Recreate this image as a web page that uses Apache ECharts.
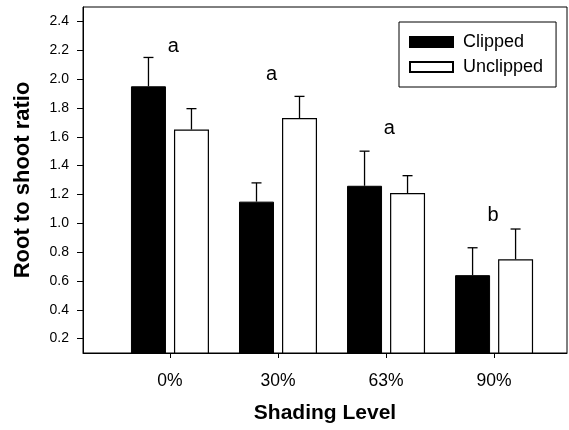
<!DOCTYPE html>
<html>
<head>
<meta charset="utf-8">
<script src="https://cdn.jsdelivr.net/npm/echarts@6/dist/echarts.min.js"></script>
<style>
html,body{margin:0;padding:0;background:#fff;}
#chart{width:569px;height:430px;}
</style>
</head>
<body>
<div id="chart"></div>
<script>
// ---- data ----
var categories = ['0%', '30%', '63%', '90%'];
var clipped = [1.95, 1.15, 1.26, 0.64];
var clippedSE = [0.20, 0.13, 0.24, 0.19];
var unclipped = [1.65, 1.73, 1.21, 0.75];
var unclippedSE = [0.145, 0.15, 0.12, 0.21];
var letters = ['a', 'a', 'a', 'b'];
var letterX = [1.03, 1.94, 3.03, 3.99];
var letterY = [2.225, 2.03, 1.654, 1.055];
var yTicks = [0.2, 0.4, 0.6, 0.8, 1.0, 1.2, 1.4, 1.6, 1.8, 2.0, 2.2, 2.4];
var xTicks = [1, 2, 3, 4];

// ---- style ----
var FONT = "'Liberation Sans', Arial, sans-serif";
var BAR_W = 35, GAP_PX = 8;
var HALF = (BAR_W + GAP_PX) / 2;

function errorSeries(name, means, ses, offset) {
  return {
    type: 'custom',
    name: name + ' SE',
    z: 1,
    data: means.map(function (m, i) { return [i + 1, m, m + ses[i]]; }),
    renderItem: function (params, api) {
      var x = api.value(0), lo = api.value(1), hi = api.value(2);
      var p1 = api.coord([x, lo]);
      var p2 = api.coord([x, hi]);
      var cx = p1[0] + offset;
      var st = { stroke: '#000', lineWidth: 1.3 };
      return {
        type: 'group',
        children: [
          { type: 'line', shape: { x1: cx, y1: p1[1], x2: cx, y2: p2[1] }, style: st },
          { type: 'line', shape: { x1: cx - 5, y1: p2[1], x2: cx + 5, y2: p2[1] }, style: st }
        ]
      };
    }
  };
}

var chart = echarts.init(document.getElementById('chart'));
chart.setOption({
  animation: false,
  backgroundColor: '#fff',
  grid: {
    left: 83, right: 2, top: 7, bottom: 77,
    show: true, borderColor: '#000', borderWidth: 1, backgroundColor: 'transparent'
  },
  legend: {
    data: ['Clipped', 'Unclipped'],
    orient: 'vertical',
    left: 399, top: 22,
    padding: [10, 13, 10, 10],
    itemGap: 5,
    itemWidth: 43, itemHeight: 10,
    borderColor: '#000', borderWidth: 1,
    backgroundColor: '#fff',
    icon: 'rect',
    textStyle: { fontFamily: FONT, fontSize: 18, color: '#000', lineHeight: 20, padding: [0, 0, 0, 5] }
  },
  xAxis: {
    type: 'value',
    min: 0.195, max: 4.675,
    name: 'Shading Level',
    nameLocation: 'middle',
    nameGap: 50,
    nameTextStyle: { fontFamily: FONT, fontSize: 21, fontWeight: 'bold', color: '#000' },
    axisLine: { show: true, lineStyle: { color: '#000', width: 1 } },
    axisTick: { show: true, inside: false, length: 5, customValues: xTicks, lineStyle: { color: '#000' } },
    axisLabel: {
      customValues: xTicks, margin: 19,
      fontFamily: FONT, fontSize: 17.5, color: '#000',
      formatter: function (v) { return categories[Math.round(v) - 1]; }
    },
    splitLine: { show: false }
  },
  yAxis: {
    type: 'value',
    min: 0.1, max: 2.5,
    name: 'Root to shoot ratio',
    nameLocation: 'middle',
    nameGap: 49,
    nameTextStyle: { fontFamily: FONT, fontSize: 22, fontWeight: 'bold', color: '#000' },
    axisLine: { show: true, lineStyle: { color: '#000', width: 1 } },
    axisTick: { show: true, inside: false, length: 6, customValues: yTicks, lineStyle: { color: '#000' } },
    axisLabel: {
      customValues: yTicks, margin: 14,
      fontFamily: FONT, fontSize: 14, color: '#000',
      formatter: function (v) { return v.toFixed(1); }
    },
    splitLine: { show: false }
  },
  series: [
    {
      name: 'Clipped', type: 'bar',
      barWidth: BAR_W, barGap: (GAP_PX / BAR_W * 100).toFixed(1) + '%',
      itemStyle: { color: '#000', borderColor: '#000', borderWidth: 1 },
      data: clipped.map(function (v, i) { return [i + 1, v]; }),
      z: 2
    },
    {
      name: 'Unclipped', type: 'bar',
      barWidth: BAR_W,
      itemStyle: { color: '#fff', borderColor: '#000', borderWidth: 1.2 },
      data: unclipped.map(function (v, i) { return [i + 1, v]; }),
      z: 2
    },
    errorSeries('Clipped', clipped, clippedSE, -HALF),
    errorSeries('Unclipped', unclipped, unclippedSE, HALF),
    {
      type: 'custom',
      name: 'letters',
      data: letters.map(function (t, i) { return [letterX[i], letterY[i]]; }),
      renderItem: function (params, api) {
        var p = api.coord([api.value(0), api.value(1)]);
        return {
          type: 'text',
          style: {
            text: letters[params.dataIndex], x: p[0], y: p[1],
            align: 'center', verticalAlign: 'middle',
            font: '20px ' + FONT, fill: '#000'
          }
        };
      }
    }
  ]
});
</script>
</body>
</html>
